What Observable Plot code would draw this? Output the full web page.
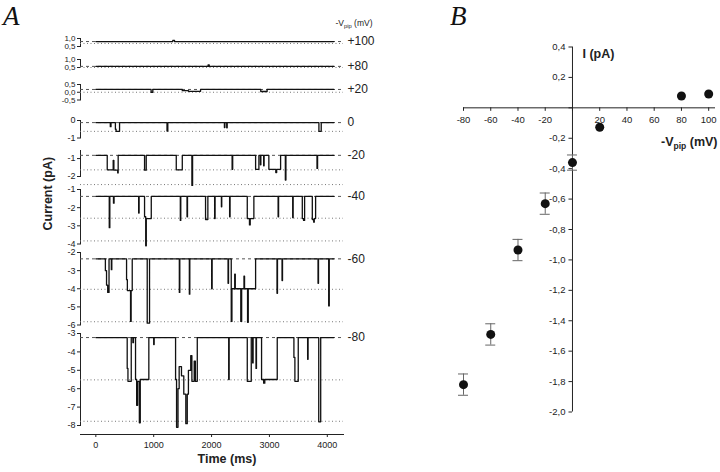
<!DOCTYPE html>
<html><head><meta charset="utf-8">
<script src="https://cdn.jsdelivr.net/npm/d3@7"></script>
<script src="https://cdn.jsdelivr.net/npm/@observablehq/plot@0.6"></script>
<style>
html,body{margin:0;padding:0;background:#fff;}
#fig{position:relative;width:720px;height:472px;overflow:hidden;background:#fff;font-family:"Liberation Sans",Arial,sans-serif;}
#fig svg{position:absolute;overflow:visible;}
.plabel{position:absolute;font-family:"Liberation Serif","Times New Roman",serif;font-style:italic;font-size:27px;line-height:30px;color:#111;}
</style></head><body>
<div id="fig">
  <div class="plabel" style="left:3px;top:1px;">A</div>
  <div class="plabel" style="left:450px;top:1px;">B</div>
</div>
<script>
// ================= DATA =================
// Panel A: single-channel records, one per pipette potential
const traceNames = ["+100", "+80", "+20", "0", "-20", "-40", "-60", "-80"];
const traceDomains = [[0.5, 1.0], [0.5, 1.0], [-0.5, 0.5], [-1, 0], [-2, -0.55], [-4, -1], [-6, -2], [-8, -3]];
const traceTicks = [[0.5, 1.0], [0.5, 1.0], [-0.5, 0, 0.5], [-1, 0], [-2, -1], [-4, -3, -2, -1], [-6, -5, -4, -3, -2], [-8, -7, -6, -5, -4, -3]];
const closedLevels = [0.81, 0.57, 0.18, -0.12, -0.82, -1.38, -2.35, -3.22];
const openLevels = [[0.69], [0.5], [0.0], [-0.62], [-1.63, -2.45], [-2.58, -3.83], [-4.03, -5.82], [-5.52, -7.77]];
// events: [tOpen, level, tChange, level, ..., tClose]  (ms, pA)
const events_p100 = [[1330, 0.88, 1360]];
const events_p80 = [[1940, 0.66, 1960]];
const events_p20 = [[955, 0.0, 985], [1494, 0.1, 1600, 0.06, 1810], [2850, 0.05, 2960]];
const events_0 = [[250, -0.35, 262], [338, -0.5, 350, -0.62, 410], [1230, -0.6, 1244], [2222, -0.4, 2230], [2262, -0.42, 2270], [3855, -0.62, 3895]];
const events_m20 = [[197, -1.63, 300, -1.1, 312, -1.65, 378, -1.8, 386], [842, -1.65, 871], [1390, -1.63, 1494], [1660, -2.5, 1672], [2355, -1.6, 2365], [2761, -1.6, 2818], [2845, -1.35, 2852], [2900, -1.4, 2908], [2990, -1.6, 3110, -1.78, 3125, -1.6, 3193], [3275, -2.2, 3285], [3822, -1.55, 3832]];
const events_m40 = [[232, -3.1, 242], [305, -1.75, 315], [740, -2.3, 748], [842, -2.5, 862, -4.1, 872, -2.6, 958], [1460, -2.7, 1468], [1576, -2.5, 1584], [1896, -2.65, 1936], [2053, -2.6, 2061], [2170, -1.95, 2176], [2312, -2.5, 2320], [2617, -2.6, 2655, -2.95, 2668, -2.6, 2731], [3150, -2.5, 3158], [3402, -2.55, 3410], [3568, -2.6, 3590, -2.7, 3608], [3741, -2.65, 3765, -2.8, 3775, -2.6, 3798]];
const events_m60 = [[165, -3.0, 185, -3.8, 205, -4.2, 228], [268, -2.95, 276], [531, -3.5, 545, -4.1, 600, -5.8, 610, -4.1, 629], [888, -5.9, 928], [1443, -4.2, 1451], [1616, -4.3, 1624], [2002, -4.0, 2010], [2285, -3.7, 2293], [2340, -5.8, 2352, -4.0, 2400, -3.2, 2410, -4.0, 2505, -5.8, 2520, -4.0, 2560, -3.3, 2570, -4.0, 2622, -5.85, 2634, -4.0, 2761], [3131, -4.25, 3139], [3218, -3.55, 3226], [3840, -3.7, 3848], [4024, -4.95, 4034]];
const events_m80 = [[542, -4.9, 555, -5.6, 612], [640, -3.5, 650], [686, -5.5, 705, -6.9, 722, -5.6, 752, -7.85, 768, -5.5, 916], [1000, -3.6, 1008], [1378, -5.5, 1395, -8.1, 1420, -6.0, 1440, -4.8, 1480, -5.3, 1520, -6.3, 1555, -7.9, 1580, -6.3, 1600, -5.0, 1640, -4.2, 1660, -5.6, 1700, -4.5, 1720, -5.6, 1753], [2296, -5.5, 2304], [2617, -5.6, 2686], [2710, -4.6, 2718], [2768, -4.9, 2776], [2864, -5.5, 2900, -5.7, 2920, -5.5, 3135], [3423, -4.3, 3440, -5.6, 3498], [3660, -4.4, 3668], [3852, -7.8, 3886]];
const traceEvents = [events_p100, events_p80, events_p20, events_0, events_m20, events_m40, events_m60, events_m80];
const recordStart = 0, recordEnd = 4110;
const timeTicks = [0, 1000, 2000, 3000, 4000];
const timeDomain = [-265, 4280];

// Panel B: I-V relation
const vpip = [-80, -60, -40, -20, 0, 20, 80, 100];
const iMean = [-1.82, -1.49, -0.935, -0.63, -0.36, -0.128, 0.078, 0.091];
const iSem = [0.07, 0.07, 0.07, 0.07, 0.05, 0, 0, 0];
const vTicks = [-80, -60, -40, -20, 0, 20, 40, 60, 80, 100];
const iTicks = [-2.0, -1.8, -1.6, -1.4, -1.2, -1.0, -0.8, -0.6, -0.4, -0.2, 0, 0.2, 0.4];

// ================= LAYOUT =================
const traceTop = [37.5, 59, 84, 119.5, 150, 188.5, 251.5, 333];
const traceBottom = [45.5, 67, 99.5, 137, 176, 243, 324, 425];
const FONT = '"Liberation Sans", Arial, sans-serif';
const INK = "#222";
const fmtComma = d => d.toFixed(1).replace(".", ",");
const fig = document.getElementById("fig");

function buildTrace(base, events) {
  const pts = [[recordStart, base]];
  for (const ev of events) {
    pts.push([ev[0], base]);
    for (let k = 0; k < ev.length - 1; k += 2) {
      pts.push([ev[k], ev[k + 1]], [ev[k + 2], ev[k + 1]]);
    }
    pts.push([ev[ev.length - 1], base]);
  }
  pts.push([recordEnd, base]);
  return pts;
}

function subPip(svg, shift) {
  const ns = "http://www.w3.org/2000/svg";
  svg.querySelectorAll("text").forEach(t => {
    if (t.textContent === "-Vpip (mV)") {
      t.textContent = "";
      t.appendChild(document.createTextNode("-V"));
      const s = document.createElementNS(ns, "tspan");
      s.setAttribute("dy", shift); s.setAttribute("font-size", "0.68em"); s.textContent = "pip";
      const r = document.createElementNS(ns, "tspan");
      r.setAttribute("dy", -shift); r.textContent = " (mV)";
      t.append(s, r);
    }
  });
}

function place(svg, left, top) {
  svg.style.left = left + "px";
  svg.style.top = top + "px";
  fig.appendChild(svg);
}

// ---- Panel A frame: time axis and labels ----
const baseA = Plot.plot({
  width: 360, height: 472,
  marginLeft: 80, marginRight: 17, marginTop: 26, marginBottom: 38,
  style: {background: "transparent", overflow: "visible", fontFamily: FONT, fontSize: "9px", color: INK},
  x: {domain: timeDomain, ticks: timeTicks, tickSize: 3, tickPadding: 4, line: true, label: null, tickFormat: d => String(d)},
  marks: [
    Plot.text(["Time (ms)"], {frameAnchor: "bottom", dx: 15, dy: 28, fontWeight: "bold", fontSize: 12.5, fill: INK}),
    Plot.text(["Current (pA)"], {frameAnchor: "left", dx: -33, rotate: -90, fontWeight: "bold", fontSize: 12.5, fill: INK}),
    Plot.text(["-Vpip (mV)"], {frameAnchor: "top-right", textAnchor: "start", lineAnchor: "bottom", dx: -8, dy: -1, fontSize: 8.5, fill: INK})
  ]
});
subPip(baseA, 2);
place(baseA, 0, 0);

// ---- Panel A traces ----
traceNames.forEach((name, k) => {
  const pad = 14;
  const h = traceBottom[k] - traceTop[k];
  const base = closedLevels[k];
  const pts = buildTrace(base, traceEvents[k]);
  const svg = Plot.plot({
    width: 360, height: h + 2 * pad,
    marginLeft: 80, marginRight: 17, marginTop: pad, marginBottom: pad,
    style: {background: "transparent", overflow: "visible", fontFamily: FONT, fontSize: k < 3 ? "8px" : "9px", color: INK},
    x: {domain: timeDomain, axis: null},
    y: {domain: traceDomains[k], ticks: traceTicks[k], tickSize: 3, tickPadding: 2, line: true, label: null,
        tickFormat: k < 3 ? fmtComma : d => String(d)},
    marks: [
      Plot.ruleY([base], {stroke: "#555", strokeDasharray: "3,3"}),
      Plot.ruleY(openLevels[k], {stroke: "#777", strokeDasharray: "1,2.5"}),
      Plot.line(pts, {x: d => d[0], y: d => d[1], stroke: "#111", strokeWidth: 1.3}),
      Plot.text([name], {frameAnchor: "right", y: () => base, text: d => d, textAnchor: "start", dx: 4, fontSize: 12, fill: INK})
    ]
  });
  place(svg, 0, traceTop[k] - pad);
});

// ---- Panel B ----
const dataB = vpip.map((v, j) => ({v, i: iMean[j], e: iSem[j]}));
const errB = dataB.filter(d => d.e > 0);
const plotB = Plot.plot({
  width: 320, height: 472,
  marginLeft: 63, marginRight: 5, marginTop: 46.5, marginBottom: 60.5,
  style: {background: "transparent", overflow: "visible", fontFamily: FONT, fontSize: "9.5px", color: INK},
  x: {domain: [-80, 105], axis: null},
  y: {domain: [-2, 0.4], axis: null},
  marks: [
    Plot.ruleY([0], {stroke: INK}),
    Plot.ruleX([0], {stroke: INK}),
    Plot.ruleX(vTicks, {x: d => d, y1: 0, y2: 0, insetBottom: -3.5, stroke: INK}),
    Plot.ruleY(iTicks, {y: d => d, x1: 0, x2: 0, insetLeft: -3.5, stroke: INK}),
    Plot.text(vTicks.filter(d => d !== 0), {x: d => d, y: 0, dy: 12.5, text: d => String(d), fill: INK}),
    Plot.text(iTicks.filter(d => d !== 0), {x: 0, y: d => d, dx: -7, textAnchor: "end", text: fmtComma, fill: INK}),
    Plot.ruleX(errB, {x: "v", y1: d => d.i - d.e, y2: d => d.i + d.e, stroke: "#666"}),
    Plot.ruleY(errB, {y: d => d.i + d.e, x1: "v", x2: "v", insetLeft: -5, insetRight: -5, stroke: "#666"}),
    Plot.ruleY(errB, {y: d => d.i - d.e, x1: "v", x2: "v", insetLeft: -5, insetRight: -5, stroke: "#666"}),
    Plot.dot(dataB, {x: "v", y: "i", r: 4.5, fill: "#111"}),
    Plot.text(["I (pA)"], {x: () => 0, y: () => 0.4, dx: 10, dy: 10.5, lineAnchor: "bottom", textAnchor: "start", fontWeight: "bold", fontSize: 12.5, fill: INK}),
    Plot.text(["-Vpip (mV)"], {x: () => 105, y: () => 0, dx: 2, dy: 38, lineAnchor: "bottom", textAnchor: "end", fontWeight: "bold", fontSize: 12.5, fill: INK})
  ]
});
subPip(plotB, 3);
place(plotB, 400, 0);
</script>
</body></html>
